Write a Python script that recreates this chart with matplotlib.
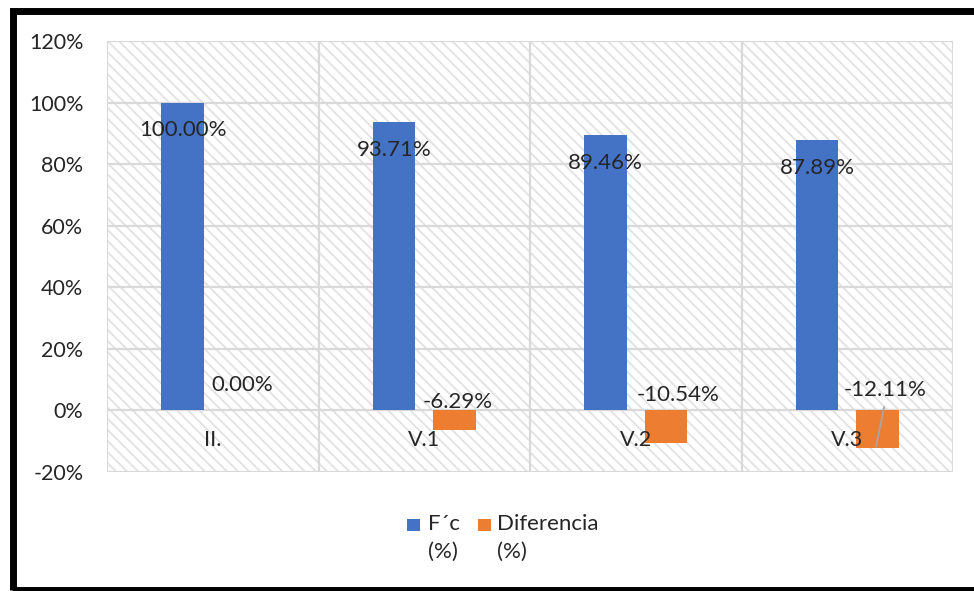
import matplotlib
matplotlib.use("Agg")
import matplotlib.pyplot as plt
from matplotlib.patches import Rectangle
import numpy as np

plt.rcParams['font.family'] = ['Lato', 'DejaVu Sans']
plt.rcParams['axes.unicode_minus'] = False
plt.rcParams['hatch.linewidth'] = 1.3

# Data
categories = ["II.", "V.1", "V.2", "V.3"]
fc_pct = [100.00, 93.71, 89.46, 87.89]
diff_pct = [0.00, -6.29, -10.54, -12.11]
series_names = ["F´c\n(%)", "Diferencia\n(%)"]
y_ticks = [-20, 0, 20, 40, 60, 80, 100, 120]

BLUE = "#4472C4"
ORANGE = "#ED7D31"
GRID = "#d9d9d9"
TEXT = "#262626"

fig = plt.figure(figsize=(9.74, 5.91), dpi=100)
ax = fig.add_axes([107 / 974, 1 - 472 / 591, (953 - 107) / 974, (472 - 41) / 591])

x = np.arange(len(categories))
width = 0.2
offset = 0.143

# hatched plot background
ax.patch.set_visible(False)
ax.add_patch(Rectangle((0, 0), 1, 1, transform=ax.transAxes, facecolor="white",
                       edgecolor="#e2e2e2", hatch="\\\\\\", linewidth=0, zorder=0))

# grid
for yv in y_ticks:
    ax.axhline(yv, color=GRID, lw=1.6, zorder=1)
for xv in np.arange(-0.5, len(categories) + 0.5, 1.0):
    ax.axvline(xv, color=GRID, lw=1.6, zorder=1)

ax.bar(x - offset, fc_pct, width, color=BLUE, zorder=3)
ax.bar(x + offset, diff_pct, width, color=ORANGE, zorder=3)

ax.set_xlim(-0.5, len(categories) - 0.5)
ax.set_ylim(-20, 120)
ax.set_yticks(y_ticks)
ax.set_yticklabels([f"{v}%" for v in y_ticks], fontsize=15.5, color=TEXT)
ax.tick_params(axis="y", length=0, pad=17)
ax.set_xticks([])
for s in ax.spines.values():
    s.set_visible(False)

# category labels just below the zero line
for xi, name in zip(x, categories):
    ax.text(xi, -9.5, name, ha="center", va="center", fontsize=15.5, color=TEXT, zorder=5)

# value labels
fc_label_y = [91.2, 84.7, 80.5, 78.9]
for xi, v, ly in zip(x, fc_pct, fc_label_y):
    ax.text(xi - offset, ly, f"{v:.2f}%", ha="center", va="center",
            fontsize=16, color=TEXT, zorder=5)

diff_label_pos = [(0.14, 8.4), (1.16, 2.6), (2.20, 4.9), (3.18, 6.5)]
for v, (lx, ly) in zip(diff_pct, diff_label_pos):
    ax.text(lx, ly, f"{v:.2f}%", ha="center", va="center",
            fontsize=16, color=TEXT, zorder=5)

# leader line to the last difference bar
ax.plot([3.174, 3.136], [1.0, -11.7], color="#a6a6a6", lw=1.3, zorder=4)

# legend
leg_items = [(407, 428, BLUE, series_names[0]), (478, 497, ORANGE, series_names[1])]
for sx, tx, col, lab in leg_items:
    fig.patches.append(Rectangle((sx / 974, 1 - 531 / 591), 13 / 974, 12 / 591,
                                 transform=fig.transFigure, facecolor=col,
                                 edgecolor="none"))
    fig.text(tx / 974, 1 - 514 / 591, lab, ha="left", va="top", fontsize=16,
             color=TEXT, linespacing=1.5)

# outer frame
fig.patches.append(Rectangle((12.5 / 974, 1 - 589.5 / 591), (990 - 12.5) / 974,
                             (589.5 - 10.5) / 591, transform=fig.transFigure,
                             facecolor="none", edgecolor="black", linewidth=5.0))

fig.savefig("out.png", dpi=100)
